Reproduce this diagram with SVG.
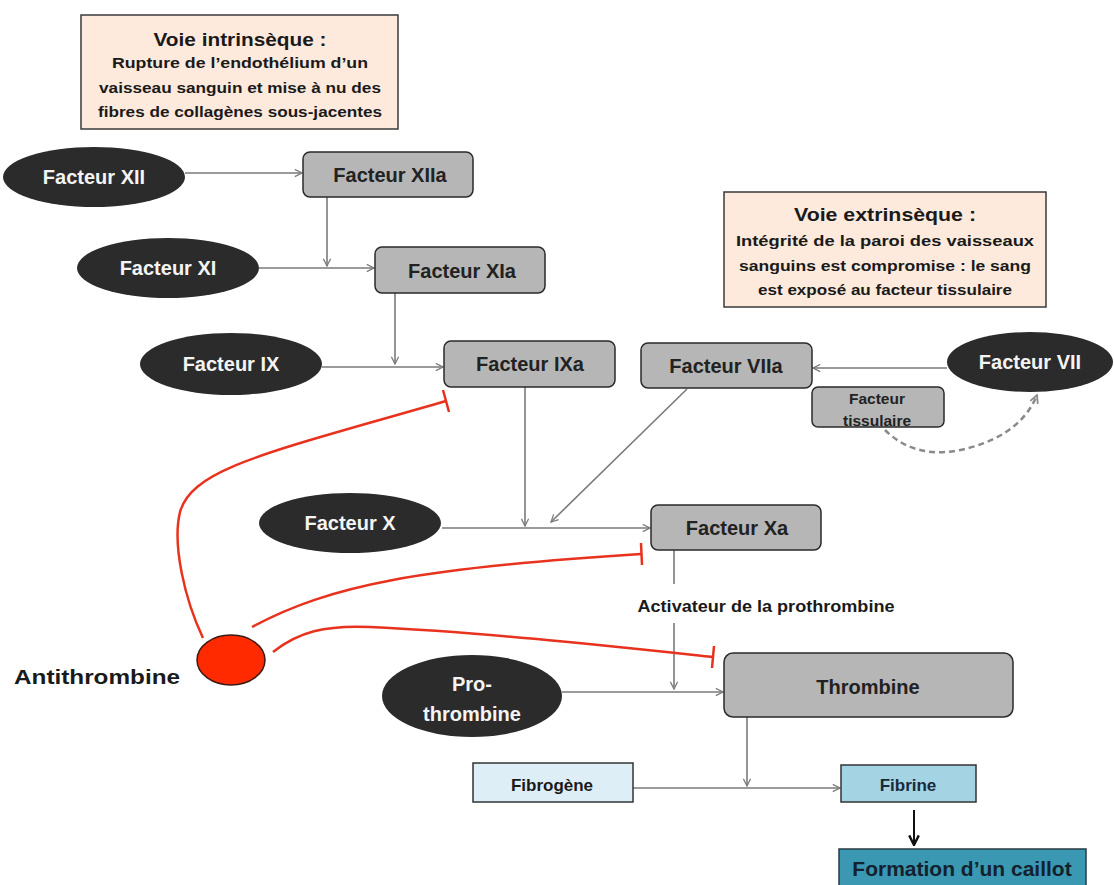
<svg xmlns="http://www.w3.org/2000/svg" width="1114" height="885" viewBox="0 0 1114 885">
<defs>
<style>
.t{font-family:"Liberation Sans",Arial,sans-serif;font-weight:bold;text-anchor:middle}
.w{fill:#f4f4f4;font-size:20px}
.d{fill:#222;font-size:20px}
.info{fill:#fdeadc;stroke:#3a3a3a;stroke-width:1.5}
.ell{fill:#2b2b2b}
.box{fill:#b6b6b6;stroke:#2a2a2a;stroke-width:1.5}
.c{fill:none;stroke:#7a7a7a;stroke-width:1.6}
.r{fill:none;stroke:#e8321e;stroke-width:2.5}
</style>
<marker id="a" viewBox="0 0 10 10" refX="9" refY="5" markerWidth="9" markerHeight="9" markerUnits="userSpaceOnUse" orient="auto">
<path d="M1,1 L9,5 L1,9" fill="none" stroke="#7a7a7a" stroke-width="1.4"/>
</marker>
<marker id="ad" viewBox="0 0 10 10" refX="9" refY="5" markerWidth="10" markerHeight="10" markerUnits="userSpaceOnUse" orient="auto">
<path d="M1,1 L9,5 L1,9" fill="none" stroke="#8a8a8a" stroke-width="1.8"/>
</marker>
<marker id="ab" viewBox="0 0 10 10" refX="9" refY="5" markerWidth="12" markerHeight="12" markerUnits="userSpaceOnUse" orient="auto">
<path d="M1,1 L9,5 L1,9" fill="none" stroke="#111" stroke-width="2"/>
</marker>
</defs>
<rect width="1114" height="885" fill="#ffffff"/>

<g id="connectors">
<line class="c" x1="185" y1="173" x2="302" y2="173" marker-end="url(#a)"/>
<line class="c" x1="327" y1="197" x2="327" y2="266" marker-end="url(#a)"/>
<line class="c" x1="259" y1="268" x2="374" y2="268" marker-end="url(#a)"/>
<line class="c" x1="395" y1="293" x2="395" y2="364" marker-end="url(#a)"/>
<line class="c" x1="322" y1="367" x2="443" y2="367" marker-end="url(#a)"/>
<line class="c" x1="525" y1="387" x2="525" y2="526" marker-end="url(#a)"/>
<line class="c" x1="687" y1="389" x2="551" y2="522" marker-end="url(#a)"/>
<line class="c" x1="442" y1="528" x2="650" y2="528" marker-end="url(#a)"/>
<line class="c" x1="947" y1="368" x2="813" y2="368" marker-end="url(#a)"/>
<path d="M885,430 C905,450 930,455 955,451 C995,444 1025,425 1037,395" fill="none" stroke="#8a8a8a" stroke-width="2.5" stroke-dasharray="6,4" marker-end="url(#ad)"/>
<line class="c" x1="674" y1="550" x2="674" y2="584"/>
<line class="c" x1="674" y1="623" x2="674" y2="689" marker-end="url(#a)"/>
<line class="c" x1="562" y1="692" x2="723" y2="692" marker-end="url(#a)"/>
<line class="c" x1="747" y1="717" x2="747" y2="786" marker-end="url(#a)"/>
<line class="c" x1="633" y1="788" x2="840" y2="788" marker-end="url(#a)"/>
<line x1="914" y1="810" x2="914" y2="845" stroke="#111" stroke-width="2" marker-end="url(#ab)"/>
<path class="r" d="M203,638 C185,600 172,545 180,512 C192,468 270,452 446,401"/>
<line class="r" x1="443" y1="390" x2="449" y2="412"/>
<path class="r" d="M252,627 C330,585 420,568 641,554"/>
<line class="r" x1="641" y1="543" x2="642" y2="565"/>
<path class="r" d="M273,652 C298,632 325,625 370,627 C480,632 600,645 713,657"/>
<line class="r" x1="714" y1="646" x2="712" y2="668"/>
</g>

<g id="intrinseque">
<rect class="info" x="81" y="15" width="317" height="114"/>
<text class="t" x="240" y="46" fill="#1a1a1a" font-size="19" textLength="173" lengthAdjust="spacingAndGlyphs">Voie intrinsèque :</text>
<text class="t" x="240" y="68" fill="#1a1a1a" font-size="15.5" textLength="256" lengthAdjust="spacingAndGlyphs">Rupture de l’endothélium d’un</text>
<text class="t" x="240" y="93" fill="#1a1a1a" font-size="15.5" textLength="282" lengthAdjust="spacingAndGlyphs">vaisseau sanguin et mise à nu des</text>
<text class="t" x="240" y="117" fill="#1a1a1a" font-size="15.5" textLength="284" lengthAdjust="spacingAndGlyphs">fibres de collagènes sous-jacentes</text>
</g>

<g id="extrinseque">
<rect class="info" x="724" y="192" width="322" height="115"/>
<text class="t" x="885" y="221" fill="#1a1a1a" font-size="19" textLength="182" lengthAdjust="spacingAndGlyphs">Voie extrinsèque :</text>
<text class="t" x="885" y="246" fill="#1a1a1a" font-size="15.5" textLength="298" lengthAdjust="spacingAndGlyphs">Intégrité de la paroi des vaisseaux</text>
<text class="t" x="885" y="271" fill="#1a1a1a" font-size="15.5" textLength="292" lengthAdjust="spacingAndGlyphs">sanguins est compromise : le sang</text>
<text class="t" x="885" y="295" fill="#1a1a1a" font-size="15.5" textLength="254" lengthAdjust="spacingAndGlyphs">est exposé au facteur tissulaire</text>
</g>

<g id="f12">
<ellipse class="ell" cx="94" cy="177" rx="91" ry="30"/>
<text class="t w" x="94" y="184">Facteur XII</text>
</g>
<g id="f12a">
<rect class="box" x="303" y="152" width="170" height="45" rx="7"/>
<text class="t d" x="390" y="182">Facteur XIIa</text>
</g>
<g id="f11">
<ellipse class="ell" cx="168" cy="268" rx="91" ry="30"/>
<text class="t w" x="168" y="275">Facteur XI</text>
</g>
<g id="f11a">
<rect class="box" x="375" y="247" width="170" height="46" rx="7"/>
<text class="t d" x="462" y="278">Facteur XIa</text>
</g>
<g id="f9">
<ellipse class="ell" cx="231" cy="364" rx="91" ry="31"/>
<text class="t w" x="231" y="371">Facteur IX</text>
</g>
<g id="f9a">
<rect class="box" x="444" y="341" width="171" height="46" rx="7"/>
<text class="t d" x="530" y="371">Facteur IXa</text>
</g>
<g id="f7a">
<rect class="box" x="641" y="343" width="171" height="45" rx="7"/>
<text class="t d" x="726" y="373">Facteur VIIa</text>
</g>
<g id="f7">
<ellipse class="ell" cx="1030" cy="362" rx="83" ry="30"/>
<text class="t w" x="1030" y="369">Facteur VII</text>
</g>
<g id="ftissulaire">
<rect class="box" x="812" y="387" width="132" height="40" rx="6"/>
<text class="t" x="877" y="404" fill="#222" font-size="15.5">Facteur</text>
<text class="t" x="877" y="426" fill="#222" font-size="15.5">tissulaire</text>
</g>
<g id="f10">
<ellipse class="ell" cx="350" cy="523" rx="91" ry="30"/>
<text class="t w" x="350" y="530">Facteur X</text>
</g>
<g id="f10a">
<rect class="box" x="651" y="505" width="170" height="45" rx="7"/>
<text class="t d" x="737" y="535">Facteur Xa</text>
</g>
<g id="activateur">
<text class="t" x="766" y="612" fill="#1a1a1a" font-size="16" textLength="257" lengthAdjust="spacingAndGlyphs">Activateur de la prothrombine</text>
</g>
<g id="antithrombine">
<ellipse cx="231" cy="660" rx="34" ry="25" fill="#ff2a00" stroke="#3a1a12" stroke-width="1.5"/>
<text x="14" y="684" font-family="&quot;Liberation Sans&quot;,Arial,sans-serif" font-weight="bold" font-size="21" fill="#1a1a1a" textLength="166" lengthAdjust="spacingAndGlyphs">Antithrombine</text>
</g>
<g id="prothrombine">
<ellipse class="ell" cx="472" cy="696" rx="90" ry="41"/>
<text class="t w" x="472" y="691">Pro-</text>
<text class="t w" x="472" y="721">thrombine</text>
</g>
<g id="thrombine">
<rect class="box" x="724" y="653" width="289" height="64" rx="9"/>
<text class="t d" x="868" y="694">Thrombine</text>
</g>
<g id="fibrogene">
<rect x="473" y="763" width="160" height="39" fill="#deeef6" stroke="#333" stroke-width="1.5"/>
<text class="t" x="552" y="791" fill="#1a1a1a" font-size="17">Fibrogène</text>
</g>
<g id="fibrine">
<rect x="841" y="765" width="135" height="37" fill="#a4d4e4" stroke="#333" stroke-width="1.5"/>
<text class="t" x="908" y="791" fill="#1a2a3a" font-size="17">Fibrine</text>
</g>
<g id="caillot">
<rect x="839" y="849" width="247" height="50" fill="#3a98b2" stroke="#2a3a44" stroke-width="1.5"/>
<text class="t" x="962" y="876" fill="#13222e" font-size="21">Formation d’un caillot</text>
</g>
</svg>
